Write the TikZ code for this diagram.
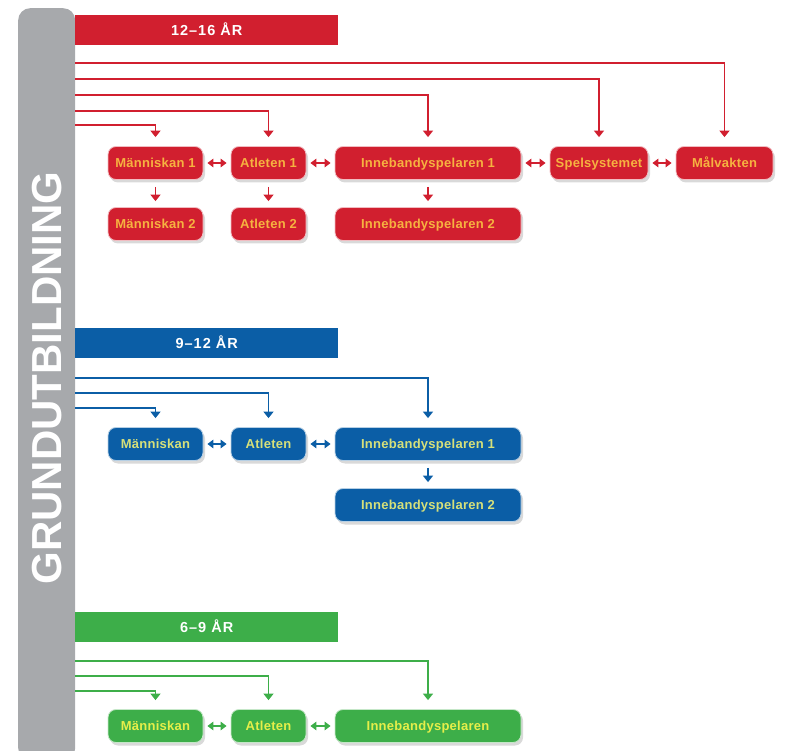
\documentclass[tikz,border=0pt]{standalone}
\usepackage{fontspec}
\setmainfont{Liberation Sans}
\newfontfamily\boxfont[LetterSpace=2]{Liberation Sans}
\newfontfamily\titlefont[LetterSpace=7]{Liberation Sans}
\usetikzlibrary{arrows.meta,shadows}

\definecolor{rd}{RGB}{209,31,47}
\definecolor{bl}{RGB}{11,94,166}
\definecolor{gn}{RGB}{61,174,73}
\definecolor{rdtxt}{RGB}{246,178,64}
\definecolor{bltxt}{RGB}{214,224,122}
\definecolor{gntxt}{RGB}{230,238,74}
\definecolor{barg}{RGB}{167,169,172}

\tikzset{
    box/.style={rounded corners=8pt, minimum height=33pt, inner sep=0pt,
        text height=9.4pt, text depth=0pt,
        fill=#1, draw=white!70!#1, line width=0.8pt,
        font=\boxfont\bfseries\fontsize{13}{13}\selectfont,
        drop shadow={opacity=0.3, shadow xshift=2pt, shadow yshift=-3pt}},
    tbar/.style={fill=#1, minimum width=263pt, minimum height=30pt, inner sep=0pt,
        text height=10.4pt, text depth=0pt,
        text=white, font=\titlefont\bfseries\fontsize{14.5}{14.5}\selectfont},
    link/.style={draw=#1, line width=1.9pt, -{Triangle[width=10pt,length=6.5pt]}},
    both/.style={draw=#1, line width=1.9pt,
        {Triangle[width=8.5pt,length=6pt]}-{Triangle[width=8.5pt,length=6pt]},
        shorten <=4pt, shorten >=4pt},
}

\begin{document}
\begin{tikzpicture}[x=1pt,y=-1pt]
    \useasboundingbox (0,0) rectangle (809,751);

    % grey side bar
    \node[fill=barg, rounded corners=12pt, minimum width=57pt, minimum height=752pt,
        inner sep=0pt, anchor=north west] (gb) at (18,8) {};
    \node[rotate=90, text=white, font=\bfseries\fontsize{42}{42}\selectfont] (gt) at (47,378) {GRUNDUTBILDNING};

    % 12-16
    \node[tbar=rd, anchor=north west] (tr) at (75,15) {12–16 ÅR};
    \node[box=rd, text=rdtxt, minimum width=95pt] (m1) at (155.5,163) {Människan 1};
    \node[box=rd, text=rdtxt, minimum width=75pt] (a1) at (268.5,163) {Atleten 1};
    \node[box=rd, text=rdtxt, minimum width=186pt] (i1) at (428,163) {Innebandyspelaren 1};
    \node[box=rd, text=rdtxt, minimum width=98pt] (sp) at (599,163) {Spelsystemet};
    \node[box=rd, text=rdtxt, minimum width=97pt] (mv) at (724.5,163) {Målvakten};
    \node[box=rd, text=rdtxt, minimum width=95pt] (m2) at (155.5,224) {Människan 2};
    \node[box=rd, text=rdtxt, minimum width=75pt] (a2) at (268.5,224) {Atleten 2};
    \node[box=rd, text=rdtxt, minimum width=186pt] (i2) at (428,224) {Innebandyspelaren 2};
    \foreach \y/\t in {63/mv, 79/sp, 95/i1, 111/a1, 125/m1}{
        \draw[link=rd] (gb.east |- 0,\y) -| ([yshift=9pt]\t.north);
    }
    \draw[both=rd] (m1) -- (a1);
    \draw[both=rd] (a1) -- (i1);
    \draw[both=rd] (i1) -- (sp);
    \draw[both=rd] (sp) -- (mv);
    \foreach \a/\b in {m1/m2, a1/a2, i1/i2}{
        \draw[link=rd] ([yshift=-7pt]\a.south) -- ([yshift=6pt]\b.north);
    }

    % 9-12
    \node[tbar=bl, anchor=north west] (tb) at (75,328) {9–12 ÅR};
    \node[box=bl, text=bltxt, minimum width=95pt] (bm) at (155.5,444) {Människan};
    \node[box=bl, text=bltxt, minimum width=75pt] (ba) at (268.5,444) {Atleten};
    \node[box=bl, text=bltxt, minimum width=186pt] (bi) at (428,444) {Innebandyspelaren 1};
    \node[box=bl, text=bltxt, minimum width=186pt] (bi2) at (428,505) {Innebandyspelaren 2};
    \foreach \y/\t in {378/bi, 393/ba, 408/bm}{
        \draw[link=bl] (gb.east |- 0,\y) -| ([yshift=9pt]\t.north);
    }
    \draw[both=bl] (bm) -- (ba);
    \draw[both=bl] (ba) -- (bi);
    \draw[link=bl] ([yshift=-7pt]bi.south) -- ([yshift=6pt]bi2.north);

    % 6-9
    \node[tbar=gn, anchor=north west] (tg) at (75,612) {6–9 ÅR};
    \node[box=gn, text=gntxt, minimum width=95pt] (gm) at (155.5,726) {Människan};
    \node[box=gn, text=gntxt, minimum width=75pt] (ga) at (268.5,726) {Atleten};
    \node[box=gn, text=gntxt, minimum width=186pt] (gi) at (428,726) {Innebandyspelaren};
    \foreach \y/\t in {661/gi, 676/ga, 691/gm}{
        \draw[link=gn] (gb.east |- 0,\y) -| ([yshift=9pt]\t.north);
    }
    \draw[both=gn] (gm) -- (ga);
    \draw[both=gn] (ga) -- (gi);
\end{tikzpicture}
\end{document}
